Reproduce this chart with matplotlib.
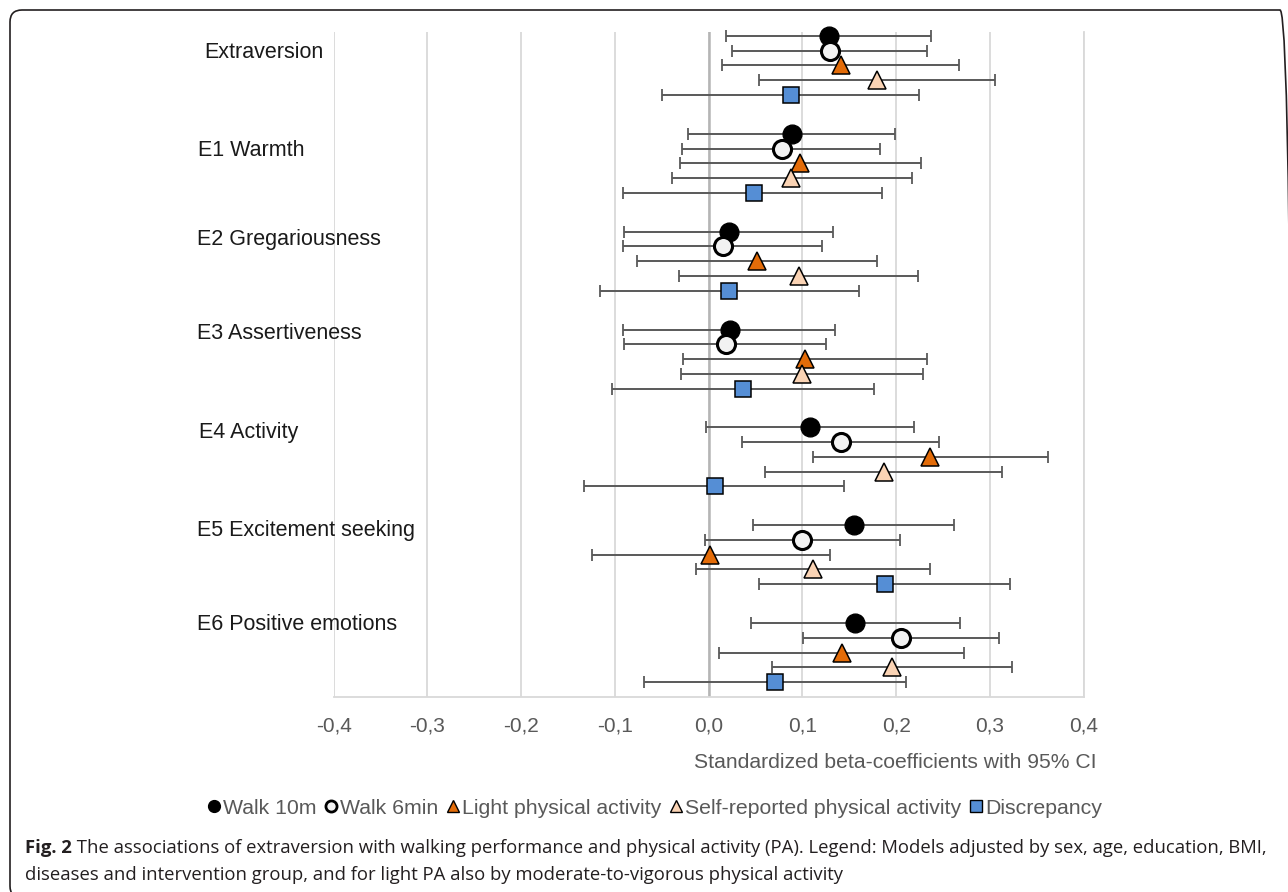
import matplotlib
matplotlib.use("Agg")
import matplotlib.pyplot as plt
from matplotlib.lines import Line2D
from matplotlib.patches import FancyBboxPatch
from matplotlib.transforms import blended_transform_factory, IdentityTransform
from matplotlib.ticker import FuncFormatter
import numpy as np

# ---------------- data ----------------
categories = ["Extraversion", "E1 Warmth", "E2 Gregariousness", "E3 Assertiveness",
              "E4 Activity", "E5 Excitement seeking", "E6 Positive emotions"]
series_names = ["Walk 10m", "Walk 6min", "Light physical activity",
                "Self-reported physical activity", "Discrepancy"]

walk10_est = [0.128, 0.089, 0.022, 0.023, 0.108, 0.155, 0.156]
walk10_lo  = [0.018, -0.022, -0.090, -0.091, -0.003, 0.047, 0.045]
walk10_hi  = [0.237, 0.199, 0.133, 0.135, 0.219, 0.262, 0.268]

walk6_est = [0.129, 0.078, 0.015, 0.018, 0.141, 0.100, 0.205]
walk6_lo  = [0.025, -0.028, -0.091, -0.090, 0.035, -0.004, 0.101]
walk6_hi  = [0.233, 0.183, 0.121, 0.125, 0.246, 0.204, 0.310]

light_est = [0.141, 0.097, 0.051, 0.103, 0.236, 0.001, 0.142]
light_lo  = [0.014, -0.031, -0.077, -0.027, 0.111, -0.125, 0.011]
light_hi  = [0.267, 0.226, 0.180, 0.233, 0.362, 0.129, 0.272]

self_est = [0.180, 0.088, 0.096, 0.100, 0.187, 0.111, 0.195]
self_lo  = [0.054, -0.039, -0.032, -0.030, 0.060, -0.014, 0.068]
self_hi  = [0.305, 0.217, 0.223, 0.229, 0.313, 0.236, 0.324]

disc_est = [0.088, 0.048, 0.022, 0.037, 0.007, 0.188, 0.071]
disc_lo  = [-0.050, -0.091, -0.116, -0.103, -0.133, 0.054, -0.069]
disc_hi  = [0.224, 0.185, 0.160, 0.176, 0.144, 0.321, 0.210]

x_ticks = [-0.4, -0.3, -0.2, -0.1, 0.0, 0.1, 0.2, 0.3, 0.4]
x_label = "Standardized beta-coefficients with 95% CI"
caption_bold = "Fig. 2"
caption_line1 = (" The associations of extraversion with walking performance and physical "
                 "activity (PA). Legend: Models adjusted by sex, age, education, BMI,")
caption_line2 = ("diseases and intervention group, and for light PA also by "
                 "moderate-to-vigorous physical activity")

# ---------------- styles ----------------
styles = [
    dict(marker="o", ms=13.5, mfc="black", mec="black", mew=1.0),
    dict(marker="o", ms=13.0, mfc="#F2F2F2", mec="black", mew=2.2),
    dict(marker="^", ms=12.5, mfc="#E36C09", mec="black", mew=1.1),
    dict(marker="^", ms=12.5, mfc="#FAD3B4", mec="black", mew=1.1),
    dict(marker="s", ms=11.3, mfc="#558ED5", mec="black", mew=1.1),
]
legend_ms = [8.5, 8.0, 8.0, 8.0, 8.0]

W, H, DPI = 1288, 892, 100
fig = plt.figure(figsize=(W / DPI, H / DPI), dpi=DPI)
fig.patch.set_facecolor("white")

ax_left, ax_right, ax_top, ax_bottom = 333.7, 1083.7, 31.7, 696.7
ax = fig.add_axes([ax_left / W, 1 - ax_bottom / H, (ax_right - ax_left) / W,
                   (ax_bottom - ax_top) / H])

group_step = 6.633
series_data = [(walk10_est, walk10_lo, walk10_hi), (walk6_est, walk6_lo, walk6_hi),
               (light_est, light_lo, light_hi), (self_est, self_lo, self_hi),
               (disc_est, disc_lo, disc_hi)]

for i, (est, lo, hi) in enumerate(series_data):
    est = np.array(est); lo = np.array(lo); hi = np.array(hi)
    y = np.arange(len(categories)) * group_step + i
    eb = ax.errorbar(est, y, xerr=[est - lo, hi - est], fmt="none", ecolor="#595959",
                     elinewidth=1.4, capsize=4.2, capthick=1.3, zorder=2)
    for art in eb.get_children():
        art.set_clip_on(False)
    ax.plot(est, y, linestyle="none", zorder=3, clip_on=False, **styles[i])

ax.set_xlim(-0.4, 0.4)
ax.set_ylim(44.79, -0.29)
ax.set_xticks(x_ticks)
ax.xaxis.set_major_formatter(FuncFormatter(lambda v, p: f"{v:.1f}".replace(".", ",").replace("-0,0", "0,0")))
ax.set_yticks([])
ax.tick_params(axis="x", length=0, pad=14, labelsize=15, labelcolor="#595959")
for lab in ax.get_xticklabels():
    lab.set_fontfamily("Liberation Sans")
ax.grid(axis="x", color="#D9D9D9", linewidth=1.3, zorder=0)
ax.set_axisbelow(True)
for s in ["top", "left"]:
    ax.spines[s].set_visible(False)
ax.spines["right"].set_color("#D9D9D9")
ax.spines["right"].set_linewidth(1.3)
ax.spines["bottom"].set_color("#D9D9D9")
ax.spines["bottom"].set_linewidth(1.3)
ax.axvline(0, color="#B5B5B5", linewidth=1.8, zorder=1)

# category labels
label_offsets = [1.13, 1.10, 0.56, 0.24, 0.37, 0.33, 0.08]
label_x_px = [204, 198, 197, 197, 199, 197, 197]
trans = blended_transform_factory(fig.transFigure, ax.transData)
for g, name in enumerate(categories):
    ax.text(label_x_px[g] / W, g * group_step + label_offsets[g], name, transform=trans,
            ha="left", va="center", fontsize=15.5, family="Liberation Sans",
            color="#1A1A1A", clip_on=False)

fig.text(1097 / W, 1 - 763 / H, x_label, ha="right", va="center", fontsize=15.2,
         family="Liberation Sans", color="#595959")

# legend
handles = []
for i, st in enumerate(styles):
    h = Line2D([], [], linestyle="none", marker=st["marker"], markersize=legend_ms[i],
               markerfacecolor=st["mfc"], markeredgecolor=st["mec"],
               markeredgewidth=2.0 if i == 1 else 1.0)
    handles.append(h)
leg = fig.legend(handles, series_names, ncol=5, loc="center",
                 bbox_to_anchor=(655 / W, 1 - 808 / H), frameon=False,
                 handlelength=0.55, handletextpad=0.17, columnspacing=0.40,
                 prop={"family": "Liberation Sans", "size": 15.3}, labelcolor="#595959",
                 borderaxespad=0, borderpad=0)

# caption
renderer = fig.canvas.get_renderer()
cap_fs = 12.3
tb = fig.text(25 / W, 1 - 848 / H, caption_bold, ha="left", va="center", fontsize=cap_fs,
              family="Open Sans", fontweight="bold", color="#231F20")
bb = tb.get_window_extent(renderer)
t1 = fig.text(bb.x1 / W, 1 - 848 / H, caption_line1, ha="left", va="center",
              fontsize=cap_fs, family="Open Sans", color="#231F20")
bb1 = t1.get_window_extent(renderer)
target = 1271
scale = (target - 25) / (bb1.x1 - 25)
cap_fs2 = cap_fs * scale
tb.set_fontsize(cap_fs2)
bb = tb.get_window_extent(renderer)
t1.set_fontsize(cap_fs2)
t1.set_x(bb.x1 / W)
fig.text(25 / W, 1 - 875 / H, caption_line2, ha="left", va="center", fontsize=cap_fs2,
         family="Open Sans", color="#231F20")

# outer rounded frame (right and bottom edges fall just outside the picture)
frame = FancyBboxPatch((10, -6), 1282, (H - 10) + 6,
                       boxstyle="round,pad=0,rounding_size=12",
                       transform=IdentityTransform(), facecolor="none",
                       edgecolor="#231F20", linewidth=1.2)
fig.patches.append(frame)

fig.savefig("out.png", dpi=DPI, facecolor="white")
